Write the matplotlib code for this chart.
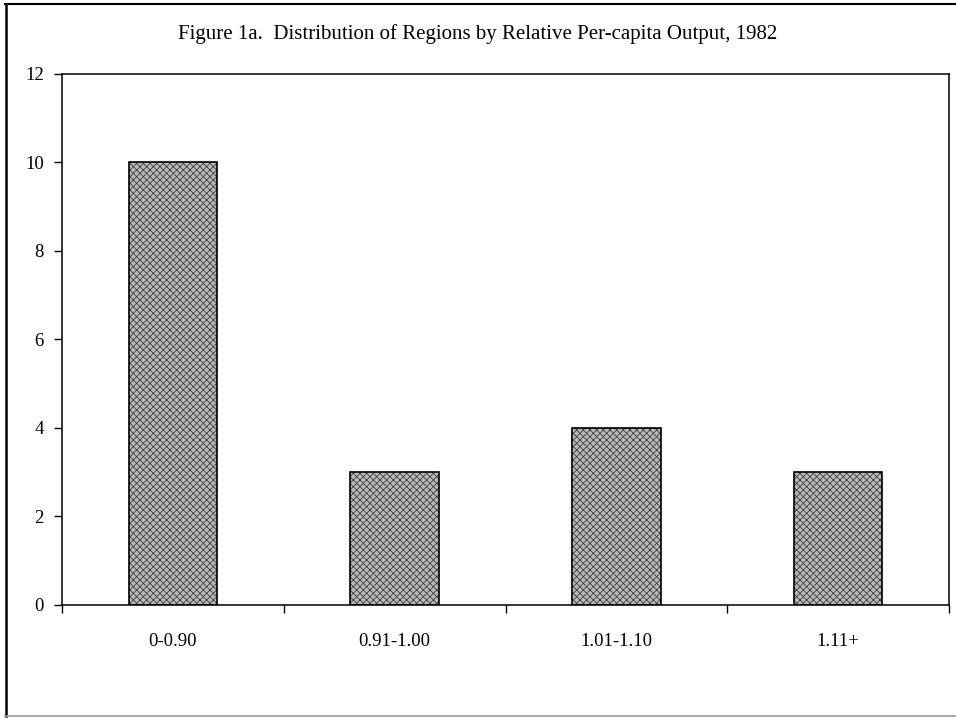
import matplotlib
matplotlib.use("Agg")
import matplotlib.pyplot as plt
import numpy as np
from matplotlib.lines import Line2D

categories = ["0-0.90", "0.91-1.00", "1.01-1.10", "1.11+"]
counts = [10, 3, 4, 3]
yticks = [0, 2, 4, 6, 8, 10, 12]
title = "Figure 1a.  Distribution of Regions by Relative Per-capita Output, 1982"

plt.rcParams['font.family'] = ['Liberation Serif', 'DejaVu Serif']
plt.rcParams['hatch.linewidth'] = 0.6

fig = plt.figure(figsize=(9.56, 7.19), dpi=100)
ax = fig.add_axes([0.0649, 0.1586, 0.9278, 0.7385])

x = np.arange(len(categories))
ax.bar(x, counts, width=0.4, color='#b8b8b8', hatch='xxxxx', edgecolor='#404040', linewidth=0, zorder=2)
ax.bar(x, counts, width=0.4, fill=False, edgecolor='black', linewidth=1.2, zorder=3)

ax.set_xlim(-0.5, len(categories) - 0.5)
ax.set_ylim(0, 12)
ax.set_yticks(yticks)
ax.set_yticklabels([str(v) for v in yticks], fontsize=13.5)
ax.tick_params(axis='y', direction='out', length=6, width=1, pad=7)

ax.set_xticks(np.arange(-0.5, len(categories), 1.0))
ax.set_xticklabels([])
ax.tick_params(axis='x', which='major', direction='out', length=6, width=1)
ax.set_xticks(x, minor=True)
ax.set_xticklabels(categories, minor=True, fontsize=13.5)
ax.tick_params(axis='x', which='minor', length=0, pad=20)

for s in ax.spines.values():
    s.set_linewidth(1.1)
    s.set_color('black')

fig.text(0.5, 0.953, title, ha='center', va='center', fontsize=15)

# outer frame (top, left, bottom) as in the scanned page
fig.add_artist(Line2D([0.005, 1.0], [0.995, 0.995], transform=fig.transFigure, color='black', lw=1.5))
fig.add_artist(Line2D([0.006, 0.006], [0.004, 0.995], transform=fig.transFigure, color='black', lw=1.8))
fig.add_artist(Line2D([0.005, 1.0], [0.004, 0.004], transform=fig.transFigure, color='#999999', lw=1.2))

fig.savefig("out.png", dpi=100)
